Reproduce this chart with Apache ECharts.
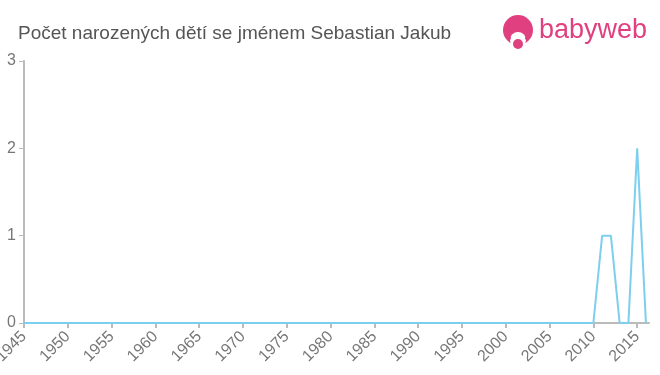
<!DOCTYPE html>
<html><head><meta charset="utf-8">
<script src="https://cdn.jsdelivr.net/npm/echarts@6/dist/echarts.min.js"></script>
<style>html,body{margin:0;padding:0;background:#fff}#c{width:660px;height:375px}</style>
</head><body><div id="c"></div>
<script>
var titleText = 'Počet narozených dětí se jménem Sebastian Jakub';
var years = [1945,1946,1947,1948,1949,1950,1951,1952,1953,1954,1955,1956,1957,1958,1959,1960,1961,1962,1963,1964,1965,1966,1967,1968,1969,1970,1971,1972,1973,1974,1975,1976,1977,1978,1979,1980,1981,1982,1983,1984,1985,1986,1987,1988,1989,1990,1991,1992,1993,1994,1995,1996,1997,1998,1999,2000,2001,2002,2003,2004,2005,2006,2007,2008,2009,2010,2011,2012,2013,2014,2015,2016];
var counts = [0,0,0,0,0,0,0,0,0,0,0,0,0,0,0,0,0,0,0,0,0,0,0,0,0,0,0,0,0,0,0,0,0,0,0,0,0,0,0,0,0,0,0,0,0,0,0,0,0,0,0,0,0,0,0,0,0,0,0,0,0,0,0,0,0,0,1,1,0,0,2,0];
var yTicks = [0,1,2,3];

var chart = echarts.init(document.getElementById('c'));
chart.setOption({
  animation: false,
  grid: {left: 24, right: 11, top: 61, bottom: 52, outerBoundsMode: 'none', containLabel: false},
  title: {text: titleText, left: 13, top: 19, textStyle: {fontFamily: 'Liberation Sans, Arial', fontSize: 19, fontWeight: 'normal', color: '#555'}},
  graphic: [
    {type: 'circle', shape: {cx: 518, cy: 30, r: 15}, style: {fill: '#e0407f'}},
    {type: 'circle', shape: {cx: 518, cy: 40, r: 8}, style: {fill: '#fff'}},
    {type: 'circle', shape: {cx: 518, cy: 44, r: 5}, style: {fill: '#e0407f'}},
    {type: 'circle', shape: {cx: 509, cy: 38, r: 2}, style: {fill: '#e0407f'}},
    {type: 'circle', shape: {cx: 527, cy: 38, r: 2}, style: {fill: '#e0407f'}},
    {type: 'text', left: 539, top: 17, style: {text: 'babyweb', fontFamily: 'Liberation Sans, Arial', fontSize: 27, fill: '#e0407f'}}
  ],
  xAxis: {
    type: 'value', min: 1945, max: 2016.35, interval: 5,
    axisLine: {lineStyle: {color: '#bbb', width: 2}},
    axisTick: {lineStyle: {color: '#bbb', width: 2}, length: 5},
    splitLine: {show: false},
    axisLabel: {rotate: 45, color: '#777', fontSize: 16, fontFamily: 'Liberation Sans, Arial', margin: 11,
      formatter: function (v) { return v % 5 === 0 ? String(v) : ''; }, showMaxLabel: false}
  },
  yAxis: {
    type: 'value', min: 0, max: 3, interval: 1,
    axisLine: {show: true, lineStyle: {color: '#bbb', width: 2}},
    axisTick: {show: true, lineStyle: {color: '#bbb', width: 1}, length: 5},
    splitLine: {show: false},
    axisLabel: {color: '#777', fontSize: 16, fontFamily: 'Liberation Sans, Arial', margin: 8,
      formatter: function (v) { return yTicks.indexOf(v) >= 0 ? String(v) : ''; }}
  },
  series: [{
    type: 'line',
    data: years.map(function (y, i) { return [y, counts[i]]; }),
    symbol: 'none',
    lineStyle: {color: '#7ccfee', width: 2},
    itemStyle: {color: '#7ccfee'}
  }]
});
</script></body></html>
